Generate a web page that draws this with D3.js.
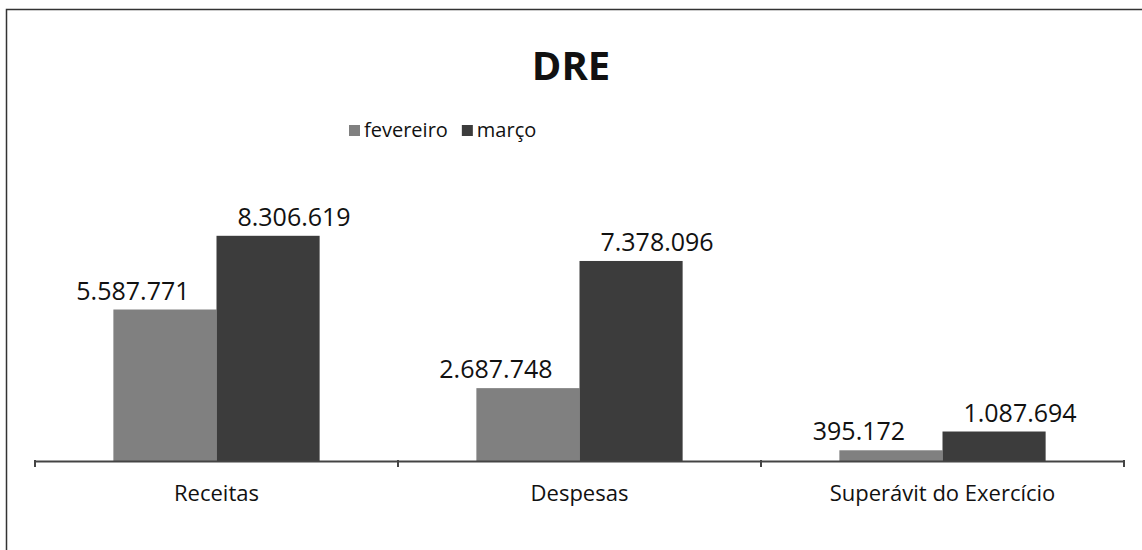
<!DOCTYPE html>
<html>
<head>
<meta charset="utf-8">
<script src="https://cdn.jsdelivr.net/npm/d3@7"></script>
<style>
  body { margin: 0; background: #fff; }
  text { font-family: "Open Sans", "Noto Sans", sans-serif; fill: #111; }
</style>
</head>
<body>
<div id="body"></div>
<script>
// data
var categories = ["Receitas", "Despesas", "Superávit do Exercício"];
var series = ["fevereiro", "março"];
var fevereiro = [5587771, 2687748, 395172];
var marco = [8306619, 7378096, 1087694];
var seriesColors = ["#808080", "#3c3c3c"];

var W = 1142, H = 550;
var svg = d3.select("#body").append("svg").attr("width", W).attr("height", H);

var rows = categories.map(function(c, i){
	return {cat: c, values: [fevereiro[i], marco[i]]};
});

var ptBR = d3.formatLocale({decimal: ",", thousands: ".", grouping: [3], currency: ["R$", ""]});
var fmt = ptBR.format(",d");

// frame (scan border)
svg.append("path")
	.attr("d", "M6.5," + H + "V9.5H" + W)
	.attr("fill", "none").attr("stroke", "#333").attr("stroke-width", 1.5);

var x = d3.scaleBand().domain(categories).range([35, 1124]).padding(0);
var xSub = d3.scaleBand().domain(series).range([0, x.bandwidth()]).paddingInner(0).paddingOuter(0.76);
var y = d3.scaleLinear().domain([0, 9000000]).range([461, 217]);
var color = d3.scaleOrdinal().domain(series).range(seriesColors);

// title
svg.append("text").attr("x", 571).attr("y", 80).attr("text-anchor", "middle")
	.style("font-size", "40px").style("font-weight", "bold").text("DRE");

// legend
var legend = svg.append("g").attr("transform", "translate(349,130)");
var lx = 0;
series.forEach(function(s){
	var g = legend.append("g").attr("transform", "translate(" + lx + ",0)");
	g.append("rect").attr("x", 0).attr("y", -5).attr("width", 11).attr("height", 11).attr("fill", color(s));
	var t = g.append("text").attr("x", 15).attr("y", 7).style("font-size", "20px").text(s);
	lx += 15 + t.node().getComputedTextLength() + 14;
});

// bars
var groups = svg.selectAll(".cat").data(rows).enter().append("g")
	.attr("class", "cat")
	.attr("transform", function(d){ return "translate(" + x(d.cat) + ",0)"; });

groups.selectAll("rect").data(function(d){
	return d.values.map(function(v, i){ return {s: series[i], v: v}; });
}).enter().append("rect")
	.attr("x", function(d){ return xSub(d.s); })
	.attr("width", xSub.bandwidth())
	.attr("y", function(d){ return y(d.v); })
	.attr("height", function(d){ return y(0) - y(d.v); })
	.attr("fill", function(d){ return color(d.s); });

// data labels (sit a little off-centre like the original)
groups.selectAll(".lbl").data(function(d){
	return d.values.map(function(v, i){ return {s: series[i], v: v}; });
}).enter().append("text")
	.attr("class", "lbl")
	.attr("x", function(d){ return xSub(d.s) + xSub.bandwidth() / 2 + (d.s == "fevereiro" ? -32 : 26); })
	.attr("y", function(d){ return y(d.v) - 10; })
	.attr("text-anchor", "middle")
	.style("font-size", "25px")
	.text(function(d){ return fmt(d.v); });

// x axis
var axis = svg.append("g").attr("transform", "translate(0," + y(0) + ")")
	.call(d3.axisBottom(x).tickSize(0).tickPadding(24));
axis.select(".domain").attr("stroke", "#444").attr("stroke-width", 2);
axis.selectAll("text").style("font-size", "22px").style("font-family", "'Open Sans', sans-serif").attr("fill", "#111");
// ticks at category boundaries
var bounds = categories.map(function(c){ return x(c); }).concat([x.range()[1]]);
axis.selectAll(".bound").data(bounds).enter().append("line")
	.attr("class", "bound")
	.attr("x1", function(d){ return d; }).attr("x2", function(d){ return d; })
	.attr("y1", -1).attr("y2", 6)
	.attr("stroke", "#444").attr("stroke-width", 2);
</script>
</body>
</html>
